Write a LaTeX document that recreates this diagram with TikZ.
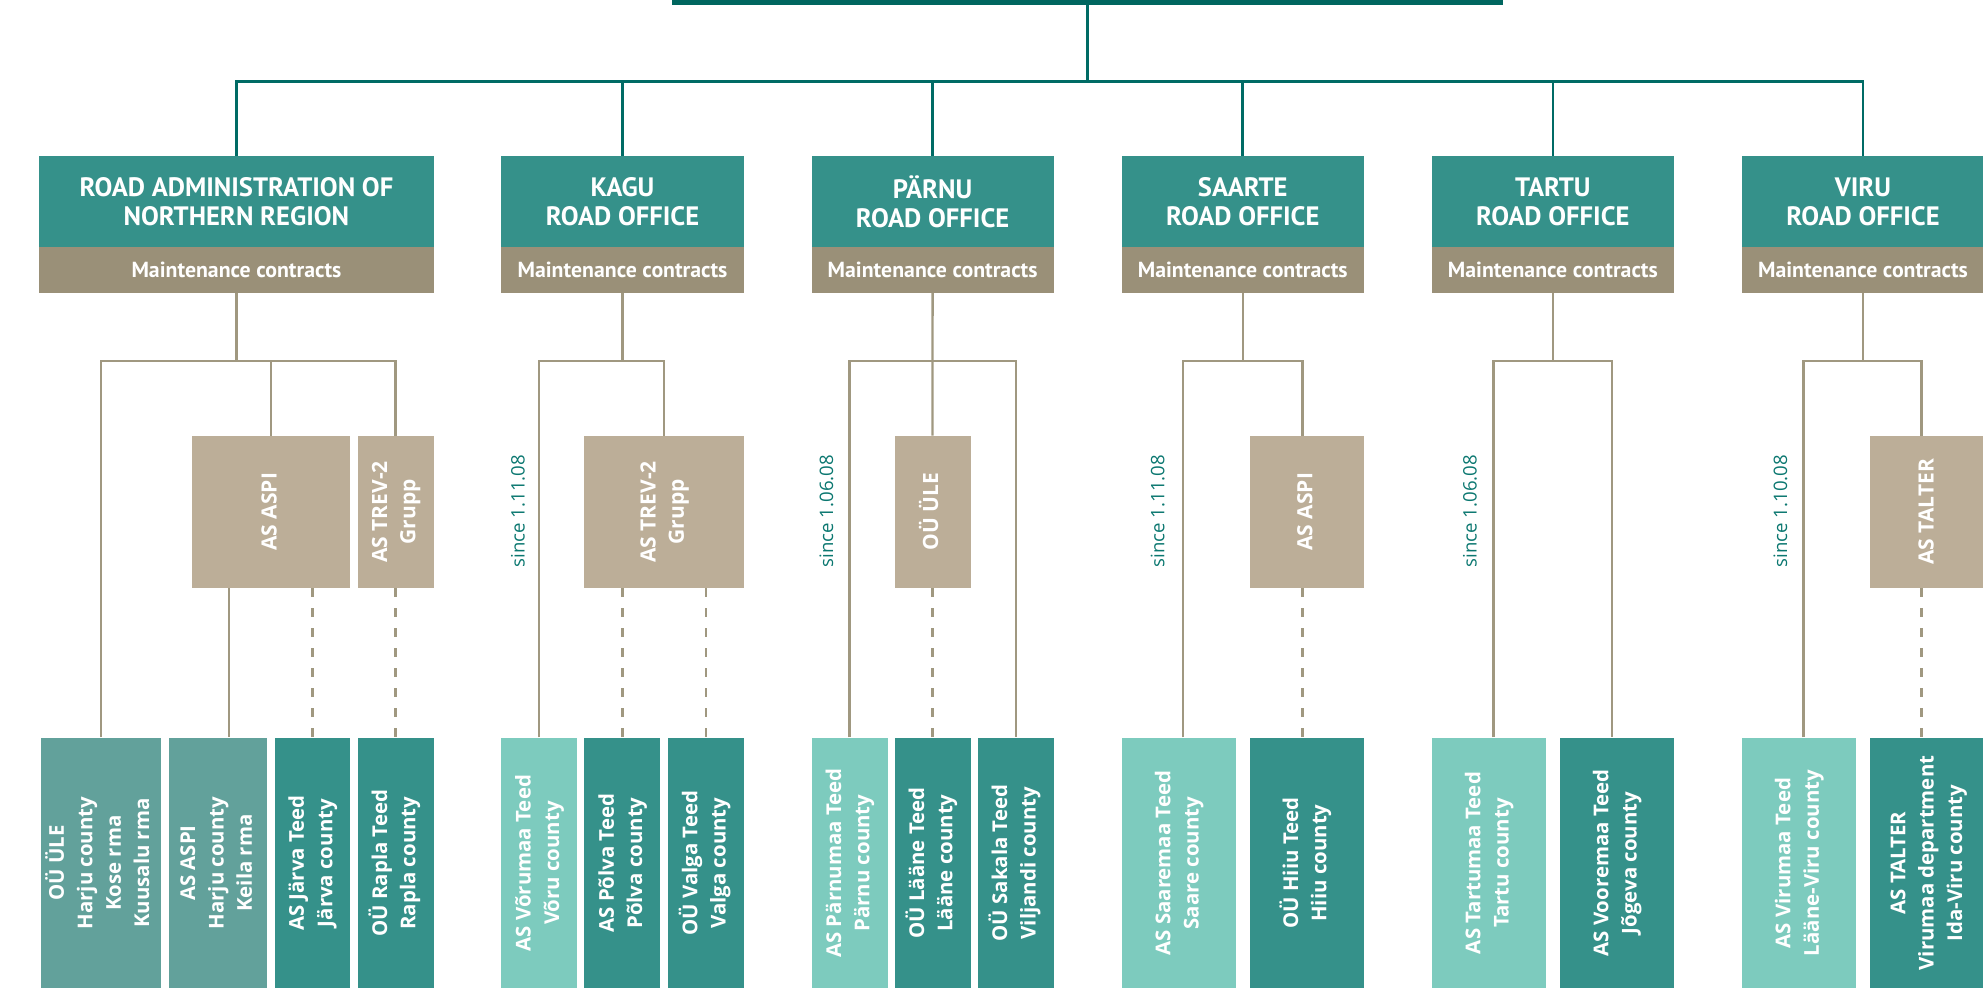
\documentclass[tikz,border=0pt]{standalone}
\usepackage{fontspec}
\setmainfont{Open Sans}
\newfontfamily\hfont{PT Sans}
\usepackage{graphicx}
\definecolor{topteal}{HTML}{00665F}
\definecolor{lineteal}{HTML}{006B65}
\definecolor{hdteal}{HTML}{35918A}
\definecolor{bandtan}{HTML}{9A9078}
\definecolor{contr}{HTML}{BCAE98}
\definecolor{linetan}{HTML}{A09880}
\definecolor{bmuted}{HTML}{62A19B}
\definecolor{bteal}{HTML}{35918A}
\definecolor{blight}{HTML}{7DCBBE}
\definecolor{sincecol}{HTML}{0B7770}
\newcommand\vtxt[1]{\rotatebox{90}{\begin{tabular}{@{}c@{}}#1\end{tabular}}}
\newcommand\vtxtb[1]{\rotatebox{90}{\hspace*{5.8pt}\begin{tabular}{@{}c@{}}#1\end{tabular}}}
\begin{document}
\begin{tikzpicture}[x=0.5pt,y=-0.5pt,
  sz/.style 2 args={minimum width=#1*0.5pt, minimum height=#2*0.5pt},
  hdr/.style={fill=hdteal, text=white, inner sep=0, align=center,
    font=\hfont\bfseries\fontsize{13.3}{14.5}\selectfont},
  band/.style={fill=bandtan, text=white, inner sep=0,
    font=\hfont\bfseries\fontsize{10.9}{12}\selectfont},
  cbox/.style={fill=contr, text=white, inner sep=0,
    font=\bfseries\fontsize{10.5}{14.2}\selectfont},
  bbox/.style={fill=#1, text=white, inner sep=0,
    font=\bfseries\fontsize{10.2}{14.2}\selectfont},
  since/.style={rotate=90, text=sincecol, inner sep=0,
    font=\fontsize{9.3}{11}\selectfont},
  tealline/.style={draw=lineteal, line width=1.35pt},
  tanline/.style={draw=linetan, line width=1.15pt},
  dashline/.style={tanline, dash pattern=on 4.5pt off 5.5pt}]
\useasboundingbox (0,0) rectangle (1983,987);
\clip (0,0) rectangle (1983,987);
% top
\node[fill=topteal, sz={831.9}{40}, inner sep=0] (top) at (1087.45,-15.3) {};
% headers
\node[hdr, sz={394.2}{91}] (nh) at (236.4,201.5) {ROAD ADMINISTRATION OF\\NORTHERN REGION};
\node[band, sz={394.2}{45.7}] (nband) at (236.4,269.85) {Maintenance contracts};
\node[hdr, sz={242.4}{91}] (kh) at (622.5,201.5) {KAGU\\ROAD OFFICE};
\node[band, sz={242.4}{45.7}] (kband) at (622.5,269.85) {Maintenance contracts};
\node[hdr, sz={242}{91}] (ph) at (932.6,201.5) {PÄRNU\\ROAD OFFICE};
\node[band, sz={242}{45.7}] (pband) at (932.6,269.85) {Maintenance contracts};
\node[hdr, sz={241.7}{91}] (sh) at (1242.75,201.5) {SAARTE\\ROAD OFFICE};
\node[band, sz={241.7}{45.7}] (sband) at (1242.75,269.85) {Maintenance contracts};
\node[hdr, sz={241.7}{91}] (th) at (1552.85,201.5) {TARTU\\ROAD OFFICE};
\node[band, sz={241.7}{45.7}] (tband) at (1552.85,269.85) {Maintenance contracts};
\node[hdr, sz={241.8}{91}] (vh) at (1863,201.5) {VIRU\\ROAD OFFICE};
\node[band, sz={241.8}{45.7}] (vband) at (1863,269.85) {Maintenance contracts};
% contractors
\node[cbox, sz={158.9}{151.7}] (na) at (270.95,511.85) {\vtxt{AS ASPI}};
\node[cbox, sz={75.9}{151.7}] (nt) at (395.55,511.85) {\vtxt{AS TREV-2\\Grupp}};
\node[cbox, sz={159.35}{151.7}] (kt) at (664.1,511.85) {\vtxt{AS TREV-2\\Grupp}};
\node[cbox, sz={75.9}{151.7}] (pu) at (932.55,511.85) {\vtxt{OÜ ÜLE}};
\node[cbox, sz={114}{151.7}] (sa) at (1306.6,511.85) {\vtxt{AS ASPI}};
\node[cbox, sz={116}{151.7}] (vt) at (1928,511.85) {\vtxt{AS TALTER}};
% since labels
\node[since] (ks) at (517.9,511) {since 1.11.08};
\node[since] (ps) at (826.3,511) {since 1.06.08};
\node[since] (ss) at (1157.6,511) {since 1.11.08};
\node[since] (ts) at (1469.9,511) {since 1.06.08};
\node[since] (vs) at (1780.4,511) {since 1.10.08};
% bottom boxes
\node[bbox=bmuted, sz={120.6}{262.3}] (n1) at (100.9,868.85) {\vtxtb{OÜ ÜLE\\Harju county\\Kose rma\\Kuusalu rma}};
\node[bbox=bmuted, sz={98.25}{262.3}] (n2) at (217.9,868.85) {\vtxtb{AS ASPI\\Harju county\\Keila rma}};
\node[bbox=bteal, sz={75.8}{262.3}] (n3) at (312.5,868.85) {\vtxtb{AS Järva Teed\\Järva county}};
\node[bbox=bteal, sz={75.9}{262.3}] (n4) at (395.55,868.85) {\vtxtb{OÜ Rapla Teed\\Rapla county}};
\node[bbox=blight, sz={75.9}{262.3}] (k1) at (539.25,868.85) {\vtxtb{AS Võrumaa Teed\\Võru county}};
\node[bbox=bteal, sz={75.9}{262.3}] (k2) at (622.35,868.85) {\vtxtb{AS Põlva Teed\\Põlva county}};
\node[bbox=bteal, sz={75.85}{262.3}] (k3) at (705.8,868.85) {\vtxtb{OÜ Valga Teed\\Valga county}};
\node[bbox=blight, sz={75.9}{262.3}] (p1) at (849.55,868.85) {\vtxtb{AS Pärnumaa Teed\\Pärnu county}};
\node[bbox=bteal, sz={75.9}{262.3}] (p2) at (932.55,868.85) {\vtxtb{OÜ Lääne Teed\\Lääne county}};
\node[bbox=bteal, sz={75.9}{262.3}] (p3) at (1015.65,868.85) {\vtxtb{OÜ Sakala Teed\\Viljandi county}};
\node[bbox=blight, sz={113.8}{262.3}] (s1) at (1178.8,868.85) {\vtxtb{AS Saaremaa Teed\\Saare county}};
\node[bbox=bteal, sz={114}{262.3}] (s2) at (1306.6,868.85) {\vtxtb{OÜ Hiiu Teed\\Hiiu county}};
\node[bbox=blight, sz={113.6}{262.3}] (t1) at (1488.8,868.85) {\vtxtb{AS Tartumaa Teed\\Tartu county}};
\node[bbox=bteal, sz={113.7}{262.3}] (t2) at (1616.85,868.85) {\vtxtb{AS Vooremaa Teed\\Jõgeva county}};
\node[bbox=blight, sz={113.8}{262.3}] (v1) at (1798.9,868.85) {\vtxtb{AS Virumaa Teed\\Lääne-Viru county}};
\node[bbox=bteal, sz={116}{262.3}] (v2) at (1928,868.85) {\vtxtb{AS TALTER\\Virumaa department\\Ida-Viru county}};
% coordinates
\coordinate (hub) at (1087.45,81.5);
\coordinate (nbr) at (236.4,361);
\coordinate (kbr) at (622.5,361);
\coordinate (pbr) at (932.6,361);
\coordinate (sbr) at (1242.75,361);
\coordinate (tbr) at (1552.85,361);
\coordinate (vbr) at (1863,361);
\coordinate (n2x) at (229,0);
\coordinate (s1x) at (1183,0);
\coordinate (sax) at (1302.4,0);
\coordinate (t1x) at (1493.4,0);
\coordinate (t2x) at (1611.8,0);
\coordinate (v1x) at (1803.5,0);
\coordinate (vtx) at (1921.5,0);
% top connectors
\draw[tealline] (top.south) -- (hub);
\draw[tealline] (nh.north) |- (hub) -| (vh.north);
\draw[tealline] (kh.north) -- (kh.north |- hub);
\draw[tealline] (ph.north) -- (ph.north |- hub);
\draw[tealline] (sh.north) -- (sh.north |- hub);
\draw[tealline] (th.north) -- (th.north |- hub);
% northern
\draw[tanline] (nband.south) -- (nbr);
\draw[tanline] (n1.north) |- (nbr) -| (nt.north);
\draw[tanline] (na.north) -- (na.north |- nbr);
\draw[tanline] (na.south -| n2x) -- (n2.north -| n2x);
\draw[dashline] (na.south -| n3.north) -- (n3.north);
\draw[dashline] (nt.south) -- (n4.north);
% kagu
\draw[tanline] (kband.south) -- (kbr);
\draw[tanline] (k1.north) |- (kbr) -| (kt.north);
\draw[dashline] (kt.south -| k2.north) -- (k2.north);
\draw[dashline] (kt.south -| k3.north) -- (k3.north);
% parnu
\draw[tanline] (pband.south) -- (pu.north);
\draw[tanline] (p1.north) |- (pbr) -| (p3.north);
\draw[dashline] (pu.south) -- (p2.north);
% saarte
\draw[tanline] (sband.south) -- (sbr);
\draw[tanline] (s1.north -| s1x) |- (sbr) -| (sa.north -| sax);
\draw[dashline] (sa.south -| sax) -- (s2.north -| sax);
% tartu
\draw[tanline] (tband.south) -- (tbr);
\draw[tanline] (t1.north -| t1x) |- (tbr) -| (t2.north -| t2x);
% viru
\draw[tanline] (vband.south) -- (vbr);
\draw[tanline] (v1.north -| v1x) |- (vbr) -| (vt.north -| vtx);
\draw[dashline] (vt.south -| vtx) -- (v2.north -| vtx);
\end{tikzpicture}
\end{document}
